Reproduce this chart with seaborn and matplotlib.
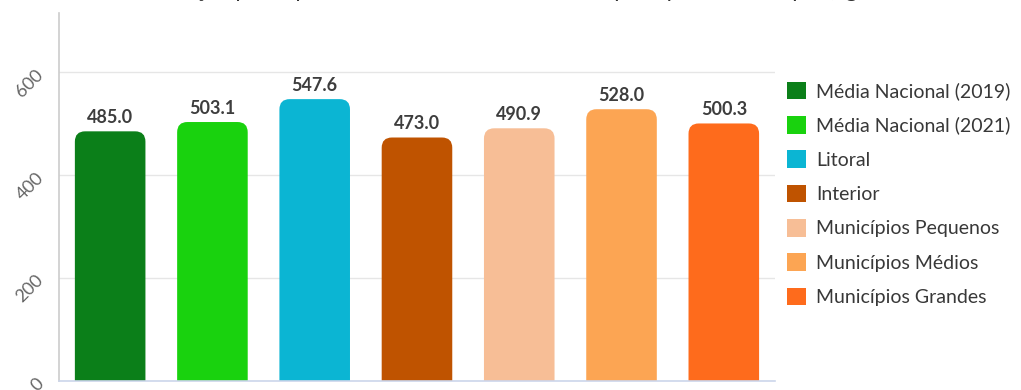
import matplotlib
matplotlib.use("Agg")
import matplotlib.pyplot as plt
from matplotlib.patches import FancyBboxPatch, Patch
import seaborn as sns
import pandas as pd

# Per capita waste generation by group (kg)
categories = [
    "Média Nacional (2019)",
    "Média Nacional (2021)",
    "Litoral",
    "Interior",
    "Municípios Pequenos",
    "Municípios Médios",
    "Municípios Grandes",
]
values = [485.0, 503.1, 547.6, 473.0, 490.9, 528.0, 500.3]
colors = ["#0b7f19", "#19d20e", "#0bb5d3", "#bf5300", "#f7be96", "#fca553", "#fe6b1c"]
y_ticks = [0, 200, 400, 600]
title = "Geração per capita de resíduos sólidos urbanos por tipo de município (kg)"

sns.set_theme(style="white")
plt.rcParams["font.family"] = ["Lato", "DejaVu Sans"]

df = pd.DataFrame({"grupo": categories, "valor": values})

fig = plt.figure(figsize=(10.21, 3.90), dpi=100)
ax = fig.add_axes([0.0578, 0.0236, 0.7012, 0.943])

sns.barplot(data=df, x="grupo", y="valor", hue="grupo", palette=colors,
            width=0.69, legend=False, ax=ax, saturation=1)

ax.set_ylim(0, 715)
ax.set_xlim(-0.5, len(categories) - 0.5)

# Replace plain rectangles with top-rounded bars of the same extent
ymin = -40
for bar, val in zip(list(ax.patches), values):
    x0 = bar.get_x()
    w = bar.get_width()
    fc = bar.get_facecolor()
    bar.set_visible(False)
    rounded = FancyBboxPatch((x0, ymin), w, val - ymin,
                             boxstyle="round,pad=0,rounding_size=0.1",
                             mutation_aspect=200, facecolor=fc,
                             edgecolor="none", zorder=2)
    ax.add_patch(rounded)
    ax.text(x0 + w / 2, val + 10, f"{val:.1f}", ha="center", va="bottom",
            fontsize=13, fontweight="bold", color="#3d3d3d", zorder=3)

ax.set_yticks(y_ticks)
ax.set_yticklabels([str(t) for t in y_ticks], rotation=45, ha="right",
                   va="center", rotation_mode="anchor", fontsize=13,
                   color="#666666")
ax.tick_params(axis="y", length=0, pad=13)
ax.set_xticks([])
ax.set_xlabel("")
ax.set_ylabel("")
ax.grid(axis="y", color="#e6e6e6", linewidth=1)
ax.set_axisbelow(True)

for side in ("top", "right"):
    ax.spines[side].set_visible(False)
ax.spines["left"].set_color("#cccccc")
ax.spines["left"].set_linewidth(1.2)
ax.spines["bottom"].set_color("#ccd6eb")
ax.spines["bottom"].set_linewidth(1.2)

handles = [Patch(facecolor=c, edgecolor="none") for c in colors]
leg = fig.legend(handles, categories, loc="upper left",
                 bbox_to_anchor=(0.763, 0.81), frameon=False,
                 fontsize=14, handlelength=1.0, handleheight=1.0,
                 handletextpad=0.5, labelspacing=0.82, borderaxespad=0)
for t in leg.get_texts():
    t.set_color("#383838")

fig.text(0.495, 1.025, title, ha="center", va="center", fontsize=16,
         color="#333333")

fig.savefig("out.png", dpi=100)
